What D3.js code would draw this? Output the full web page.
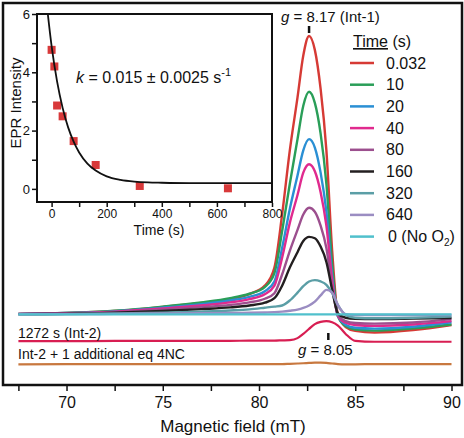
<!DOCTYPE html>
<html><head><meta charset="utf-8">
<script src="https://cdn.jsdelivr.net/npm/d3@7"></script>
<style>body{margin:0;background:#fff}svg{display:block;font-family:"Liberation Sans",Arial,sans-serif}</style>
</head><body><svg id="c" width="464" height="438"></svg>
<script>
// ---------- main spectra data ----------
const field = [67.5,70,72.5,75,77,78.5,79.5,80.3,80.8,81.2,81.6,82.0,82.3,82.6,82.9,83.2,83.5,83.8,84.1,84.5,85,86,88,90];
const seriesNames = ["0.032","10","20","40","80","160","320","640","0 (No O2)"];
const seriesColors = ["#d63a35","#2a9e58","#2a8fd4","#e02a8e","#9c4f8e","#231f20","#5b9ea6","#9b8dc2","#50c0cc"];
const s0032 = [0.4,0.7,1.4,2.9,4.3,5.7,7.5,10.5,17,36,59,78,93,100,95,81,59,23,0,-4.3,-5.7,-6.3,-5.4,-3.6];
const s10   = [0.4,0.7,1.5,3.0,4.5,6.0,7.6,10,15,30,47,63,75,80,76,65,47,18,-0.5,-4,-5.2,-5.6,-4.8,-3.4];
const s20   = [0.4,0.7,1.3,2.6,3.9,5.2,6.5,8.5,12,24,38,50,59,63,60,51,37,14,-0.5,-3.5,-4.6,-4.9,-4.2,-2.6];
const s40   = [0.4,0.6,1.2,2.3,3.4,4.5,5.7,7.4,10.5,20.5,33,43,51,54,51.5,44,32,12.5,-0.3,-2.8,-3.6,-3.9,-3.4,-2.2];
const s80   = [0.3,0.5,1.0,1.9,2.8,3.6,4.5,5.8,7.8,14.5,23,30.5,36,38.4,37,32,24,10,0,-2.2,-2.9,-3.1,-2.7,-1.5];
const s160  = [0.3,0.4,0.8,1.4,2.1,2.7,3.4,4.4,6,10.5,17,22.5,26.5,28,27.5,24.5,19,9,0.5,-1.0,-1.4,-1.5,-1.3,-1.1];
const s320  = [0.2,0.3,0.5,0.8,1.2,1.6,2.0,2.6,3.0,3.4,5.2,8.0,10.3,12.0,12.5,12.0,10.8,7.8,3.5,0,-1.0,-1.2,-1.0,-0.6];
const s640  = [0.3,0.3,0.4,0.5,0.6,0.7,0.8,0.9,1.0,1.2,1.5,1.9,2.5,3.4,4.8,7.0,9.0,8.0,3.5,0.3,0,0,0,0];
const sNoO2 = [0.2,0.2,0.2,0.2,0.2,0.2,0.2,0.2,0.2,0.2,0.2,0.2,0.2,0.2,0.2,0.2,0.2,0.2,0.2,0.2,0.2,0.2,0.2,0.2];
const sInt2 = [-9.4,-9.4,-9.3,-9.3,-9.3,-9.3,-9.2,-9.2,-9.2,-9.1,-9.0,-8.3,-6.8,-5.0,-3.3,-2.5,-2.2,-2.6,-3.8,-6.8,-9.3,-9.6,-9.6,-9.6];
const s4NC  = [-17.7,-17.6,-17.6,-17.6,-17.6,-17.6,-17.6,-17.6,-17.6,-17.6,-17.5,-17.4,-17.3,-17.2,-17.1,-17.1,-17.2,-17.4,-17.6,-17.7,-17.7,-17.6,-17.6,-17.6];
const seriesValues = [s0032,s10,s20,s40,s80,s160,s320,s640,sNoO2];
const xMajorTicks = [70,75,80,85,90];
const xMinorTicks = [67.5,72.5,77.5,82.5,87.5];

// ---------- inset data ----------
const decayTime = [0.032,10,20,40,80,160,320,640];
const decayIntensity = [4.77,4.2,2.86,2.49,1.64,0.82,0.10,0.02];
const fitTime = [-20,0,20,40,60,80,100,130,160,200,250,300,350,400,500,600,700,800];
const fitIntensity = [6.54,4.9,3.68,2.78,2.11,1.62,1.25,0.87,0.63,0.43,0.31,0.25,0.22,0.21,0.2,0.2,0.2,0.2];
const insetXTicks = [0,100,200,300,400,500,600,700,800];
const insetXLabels = [0,200,400,600,800];
const insetYTicks = [0,1,2,3,4,5,6];
const insetYLabels = [0,2,4,6];

const svg = d3.select("#c");
const F = '"Liberation Sans",Arial,sans-serif';

// main scales
const x = d3.scaleLinear().domain([66.70,90.545]).range([3,462]);
const y = d3.scaleLinear().domain([-25.1,111.8]).range([385,3]);

const line = d3.line().x((d,i)=>x(field[i])).y(d=>y(d)).curve(d3.curveMonotoneX);

svg.append("defs").append("clipPath").attr("id","mc").append("rect").attr("x",4).attr("y",4).attr("width",457).attr("height",380);
const g = svg.append("g").attr("clip-path","url(#mc)");

g.append("path").attr("d",line(s4NC)).attr("fill","none").attr("stroke","#c8783f").attr("stroke-width",2.2);
g.append("path").attr("d",line(sInt2)).attr("fill","none").attr("stroke","#d81e52").attr("stroke-width",2.2);
seriesValues.forEach((vals,i)=>{
  g.append("path").attr("d",line(vals)).attr("fill","none").attr("stroke",seriesColors[i]).attr("stroke-width",2.4);
});

// main frame
svg.append("rect").attr("x",3).attr("y",3).attr("width",459).attr("height",382).attr("fill","none").attr("stroke","#111").attr("stroke-width",2.5);

// x axis
const xa = svg.append("g").attr("transform","translate(0,386)")
  .call(d3.axisBottom(x).tickValues(xMajorTicks).tickSize(5).tickPadding(6).tickFormat(d3.format("d")));
xa.select(".domain").remove();
xa.selectAll("text").attr("font-size",16).attr("font-family",F).attr("fill","#111");
xa.selectAll("line").attr("stroke","#111").attr("stroke-width",1.5);
const xm = svg.append("g").attr("transform","translate(0,386)")
  .call(d3.axisBottom(x).tickValues(xMinorTicks).tickSize(5).tickFormat(""));
xm.select(".domain").remove();
xm.selectAll("line").attr("stroke","#111").attr("stroke-width",1.5);
svg.append("text").attr("x",233).attr("y",432).attr("text-anchor","middle").attr("font-size",17).attr("font-family",F).attr("fill","#111").text("Magnetic field (mT)");

// annotations
const gt = svg.append("text").attr("x",281).attr("y",22).attr("font-size",15).attr("font-family",F).attr("fill","#111");
gt.append("tspan").attr("font-style","italic").text("g");
gt.append("tspan").text(" = 8.17 (Int-1)");
svg.append("line").attr("x1",x(82.6)).attr("x2",x(82.6)).attr("y1",26).attr("y2",33).attr("stroke","#111").attr("stroke-width",2.5);
const gt2 = svg.append("text").attr("x",298).attr("y",355).attr("font-size",15).attr("font-family",F).attr("fill","#111");
gt2.append("tspan").attr("font-style","italic").text("g");
gt2.append("tspan").text(" = 8.05");
svg.append("line").attr("x1",x(83.6)).attr("x2",x(83.6)).attr("y1",333).attr("y2",340).attr("stroke","#111").attr("stroke-width",2.5);
svg.append("text").attr("x",18).attr("y",338).attr("font-size",14).attr("font-family",F).attr("fill","#111").text("1272 s (Int-2)");
svg.append("text").attr("x",18).attr("y",359).attr("font-size",14).attr("font-family",F).attr("fill","#111").text("Int-2 + 1 additional eq 4NC");

// legend
const lt = svg.append("text").attr("x",353).attr("y",47).attr("font-size",16).attr("font-family",F).attr("fill","#111");
lt.append("tspan").attr("text-decoration","underline").text("Time");
lt.append("tspan").text(" (s)");
seriesNames.forEach((n,i)=>{
  const yy = 63 + i*21.7;
  svg.append("line").attr("x1",350).attr("x2",374).attr("y1",yy).attr("y2",yy).attr("stroke",seriesColors[i]).attr("stroke-width",2.5);
  const t = svg.append("text").attr("x",i===8?388:386).attr("y",yy+5.5).attr("font-size",16).attr("font-family",F).attr("fill","#111");
  if(n.indexOf("O2")>=0){
    t.append("tspan").text("0 (No O");
    t.append("tspan").attr("font-size",10).attr("dy",4).text("2");
    t.append("tspan").attr("dy",-4).text(")");
  } else t.text(n);
});

// ---------- inset ----------
const ix = d3.scaleLinear().domain([-53,800]).range([37,272]);
const iy = d3.scaleLinear().domain([-0.45,6]).range([202,14]);
svg.append("rect").attr("x",37).attr("y",14).attr("width",235).attr("height",188).attr("fill","#fff");
svg.select("defs").append("clipPath").attr("id","ic").append("rect").attr("x",37).attr("y",14).attr("width",235).attr("height",188);
const ig = svg.append("g").attr("clip-path","url(#ic)");
ig.selectAll("rect.pt").data(decayTime).enter().append("rect").attr("class","pt")
  .attr("x",(d)=>ix(d)-4).attr("y",(d,i)=>iy(decayIntensity[i])-4).attr("width",8).attr("height",8).attr("fill","#d8393a");
const fl = d3.line().x((d,i)=>ix(fitTime[i])).y(d=>iy(d)).curve(d3.curveMonotoneX);
ig.append("path").attr("d",fl(fitIntensity)).attr("fill","none").attr("stroke","#111").attr("stroke-width",1.8);
svg.append("rect").attr("x",37).attr("y",14).attr("width",235).attr("height",188).attr("fill","none").attr("stroke","#111").attr("stroke-width",2);

const ixa = svg.append("g").attr("transform","translate(0,203)")
  .call(d3.axisBottom(ix).tickValues(insetXTicks).tickSize(4).tickPadding(2).tickFormat(d=>insetXLabels.includes(d)?d:""));
ixa.select(".domain").remove();
ixa.selectAll("text").attr("font-size",12).attr("font-family",F).attr("fill","#111");
ixa.selectAll("line").attr("stroke","#111").attr("stroke-width",1.5);
const iya = svg.append("g").attr("transform","translate(36,0)")
  .call(d3.axisLeft(iy).tickValues(insetYTicks).tickSize(4).tickPadding(2).tickFormat(d=>insetYLabels.includes(d)?d:""));
iya.select(".domain").remove();
iya.selectAll("text").attr("font-size",13).attr("font-family",F).attr("fill","#111");
iya.selectAll("line").attr("stroke","#111").attr("stroke-width",1.5);
svg.append("text").attr("x",159).attr("y",235).attr("text-anchor","middle").attr("font-size",14).attr("font-family",F).attr("fill","#111").text("Time (s)");
svg.append("text").attr("transform","translate(21,103) rotate(-90)").attr("text-anchor","middle").attr("font-size",15).attr("font-family",F).attr("fill","#111").text("EPR Intensity");
const kt = svg.append("text").attr("x",76).attr("y",83).attr("font-size",16).attr("font-family",F).attr("fill","#111");
kt.append("tspan").attr("font-style","italic").text("k");
kt.append("tspan").text(" = 0.015 ± 0.0025 s");
kt.append("tspan").attr("font-size",11).attr("dy",-7).text("-1");
</script></body></html>
